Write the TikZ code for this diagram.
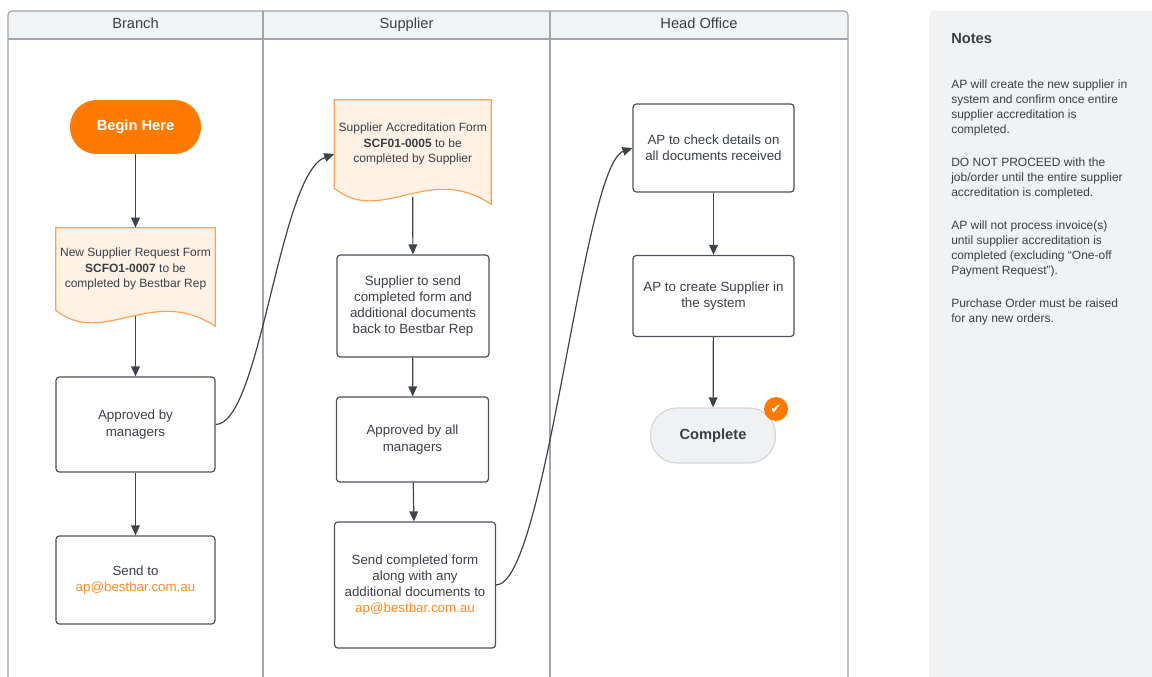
\documentclass[tikz,border=0pt]{standalone}
\usepackage{fontspec}
\setmainfont{Liberation Sans}
\newfontfamily\symfont{DejaVu Sans}
\usetikzlibrary{arrows.meta,calc,backgrounds}

\definecolor{textc}{HTML}{3A3F47}
\definecolor{laneline}{HTML}{A0A6AE}
\definecolor{headfill}{HTML}{F2F3F5}
\definecolor{orangec}{HTML}{FF7A00}
\definecolor{emailc}{HTML}{FF8A26}
\definecolor{docline}{HTML}{FFA352}
\definecolor{docfill}{HTML}{FFF1E4}
\definecolor{boxline}{HTML}{4B5059}
\definecolor{arrowc}{HTML}{3E434B}
\definecolor{notesfill}{HTML}{F1F2F4}
\definecolor{donefill}{HTML}{F0F1F3}
\definecolor{doneline}{HTML}{D3D6DB}

\begin{document}
\begin{tikzpicture}[x=0.75pt,y=-0.75pt]%
\tikzstyle{lanehead} = [anchor=base, text=textc, font=\fontsize{11}{13}\selectfont]
\tikzstyle{procbox} = [draw=boxline, line width=0.9pt, rectangle, rounded corners=2.5pt,
    text=textc, align=center, inner sep=2pt, font=\fontsize{10}{12.2}\selectfont]
\tikzstyle{docbox} = [rectangle, inner sep=0pt, text=textc, align=center,
    font=\fontsize{9}{11.6}\selectfont]
\tikzstyle{terminal} = [rectangle, rounded corners=20pt, font=\bfseries\fontsize{11}{13}\selectfont]
\tikzstyle{docshape} = [draw=docline, fill=docfill, line width=0.9pt]
\tikzstyle{flow} = [draw=arrowc, line width=0.9pt, -{Triangle[length=7.5pt,width=6.5pt]}]

\useasboundingbox (0,0) rectangle (1152,677);

% Branch
\node[terminal, fill=orangec, text=white, minimum width=98.25pt, minimum height=40.5pt] (begin) at (135.5,127) {Begin Here};
\node[docbox, minimum width=119.25pt, minimum height=61.5pt] (reqform) at (135.5,269)
    {New Supplier Request Form\\\textbf{SCFO1-0007} to be\\completed by Bestbar Rep};
\node[procbox, minimum width=119.25pt, minimum height=71.25pt] (approve) at (135.5,424.5) {Approved by\\managers};
\node[procbox, minimum width=119.25pt, minimum height=66pt] (sendap) at (135.5,580)
    {Send to\\\textcolor{emailc}{ap@bestbar.com.au}};

% Supplier
\node[docbox, minimum width=117.4pt, minimum height=66pt] (accform) at (412.75,144)
    {Supplier Accreditation Form\\\textbf{SCF01-0005} to be\\completed by Supplier};
\node[procbox, minimum width=114pt, minimum height=76.5pt] (supsend) at (413,306)
    {Supplier to send\\completed form and\\additional documents\\back to Bestbar Rep};
\node[procbox, minimum width=114pt, minimum height=63.75pt] (allappr) at (412.5,439.5) {Approved by all\\managers};
\node[procbox, minimum width=120.75pt, minimum height=94.5pt] (sendforms) at (415,585)
    {Send completed form\\along with any\\additional documents to\\\textcolor{emailc}{ap@bestbar.com.au}};

% Head Office
\node[procbox, minimum width=120.75pt, minimum height=66pt] (apcheck) at (713.5,148)
    {AP to check details on\\all documents received};
\node[procbox, minimum width=120.75pt, minimum height=60.75pt] (apcreate) at (713.5,296)
    {AP to create Supplier in\\the system};
\node[terminal, fill=donefill, draw=doneline, line width=0.9pt, text=textc,
    minimum width=93.75pt, minimum height=41.25pt] (complete) at (713,435.5) {Complete};
\node[circle, fill=orangec, minimum size=18pt, inner sep=0pt, text=white,
    font=\symfont\fontsize{10}{10}\selectfont] (tick) at (776,409) {✔};

% Notes
\node[anchor=west, inner sep=0pt, text=textc, font=\bfseries\fontsize{11}{13}\selectfont] (notestitle) at (951,38.5) {Notes};
\node[anchor=north west, inner sep=0pt, align=left, text=textc, font=\fontsize{9}{11.25}\selectfont] (notesbody) at (951,80)
    {AP will create the new supplier in\\system and confirm once entire\\supplier accreditation is\\completed.\\[13.5pt]
     DO NOT PROCEED with the\\job/order until the entire supplier\\accreditation is completed.\\[13.5pt]
     AP will not process invoice(s)\\until supplier accreditation is\\completed (excluding “One-off\\Payment Request”).\\[13.5pt]
     Purchase Order must be raised\\for any new orders.};

% connectors
\draw[flow] (begin) -- (reqform);
\draw[flow] ([yshift=-4pt]reqform.south) -- (approve);
\draw[flow] (approve) -- (sendap);
\draw[flow] (approve.east) .. controls +(45,0) and +(-55,20) .. ([yshift=-7.5pt]accform.west);
\draw[flow] ([yshift=-6.5pt]accform.south) -- (supsend);
\draw[flow] (supsend) -- (allappr);
\draw[flow] (allappr) -- (sendforms);
\draw[flow] (sendforms.east) .. controls +(50,0) and +(-50,18) .. (apcheck.west);
\draw[flow] (apcheck) -- (apcreate);
\draw[flow] (apcreate) -- (complete);

\begin{scope}[on background layer]
\fill[notesfill, rounded corners=3pt] (929,690) -- (929,11) -- (1160,11) -- (1160,690) -- cycle;
\fill[headfill] (8,39) [rounded corners=3pt] -- (8,11) -- (848,11) [sharp corners] -- (848,39) -- cycle;
\draw[laneline, line width=0.8pt, rounded corners=3pt] (8,690) -- (8,11) -- (848,11) -- (848,690);
\draw[laneline, line width=0.8pt] (8,39) -- (848,39) (263,11) -- (263,690) (550,11) -- (550,690);
\foreach \d in {reqform,accform}
  \path[docshape] (\d.south west) -- (\d.north west) -- (\d.north east) -- ($(\d.south east)+(0,16)$)
    .. controls ($(\d.south west)!0.6!(\d.south east)+(0,-26)$) and ($(\d.south west)!0.3!(\d.south east)+(0,38)$)
    .. (\d.south west) -- cycle;
\end{scope}

\node[lanehead] (branch) at (135.5,28.5) {Branch};
\node[lanehead] (supplier) at (406.5,28.5) {Supplier};
\node[lanehead] (headoffice) at (699,28.5) {Head Office};
\end{tikzpicture}
\end{document}
